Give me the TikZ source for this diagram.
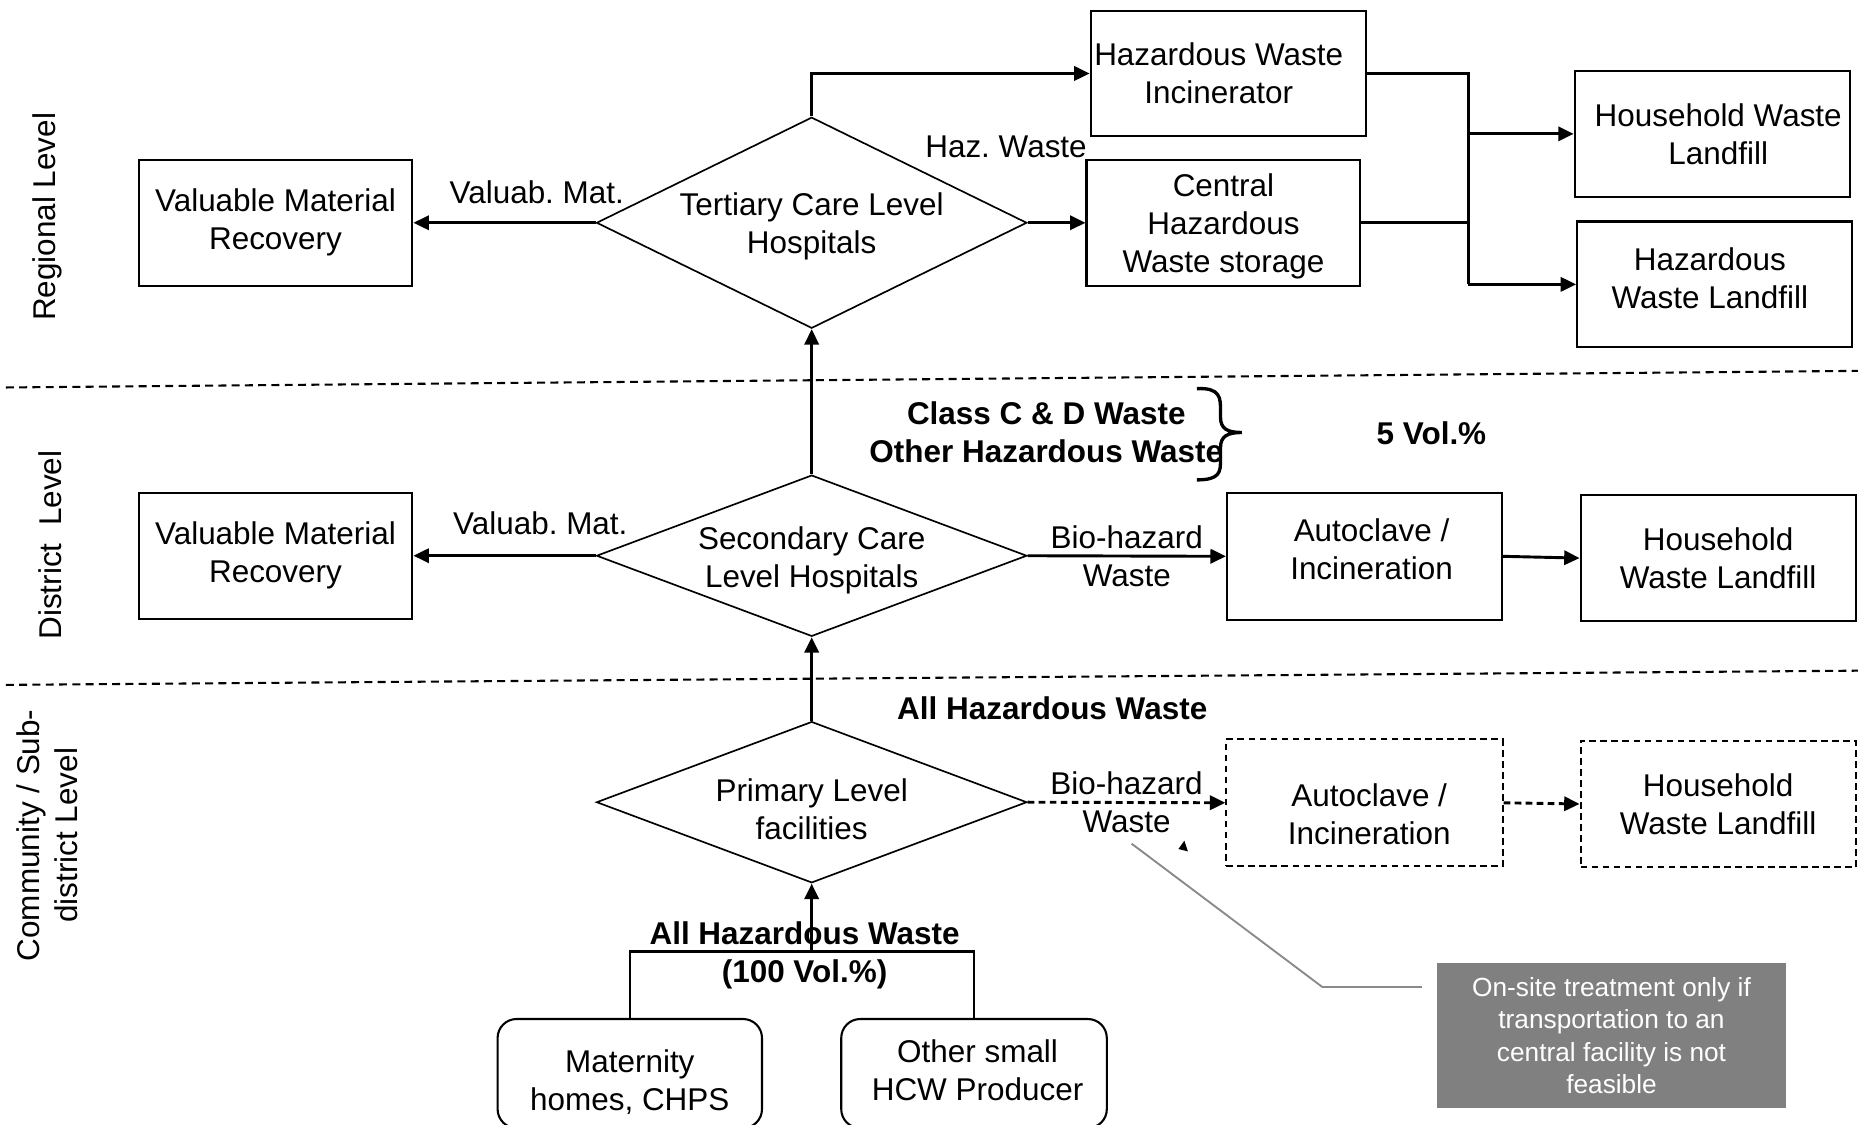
\documentclass[tikz,border=0pt]{standalone}
\usepackage{fontspec}
\setmainfont{Liberation Sans}
\usetikzlibrary{arrows.meta,shapes.geometric}
\newcommand\dgmsize{\fontsize{7.55}{9.1}\selectfont}
\newcommand\notesize{\fontsize{6.3}{7.7}\selectfont}
\definecolor{notegray}{HTML}{808080}
\definecolor{calloutgray}{HTML}{8A8A8A}
\frenchspacing
\tikzset{
  every node/.style={font=\dgmsize},
  box/.style={draw, line width=0.5pt, align=center, inner sep=0pt},
  dbox/.style={box, dash pattern=on 0.056cm off 0.037cm},
  rbox/.style={box, rounded corners=0.16cm},
  diam/.style={draw, shape=diamond, line width=0.4pt, inner sep=0pt, align=center,
    minimum width=3.63cm},
  flow/.style={-{Triangle[length=0.13cm,width=0.12cm]}, line width=0.7pt},
  dflow/.style={flow, dash pattern=on 0.056cm off 0.037cm},
  conn/.style={line width=0.7pt},
  lbl/.style={align=center, inner sep=0pt},
  boldlbl/.style={lbl, font=\dgmsize\bfseries},
  sepline/.style={line width=0.5pt, dash pattern=on 0.067cm off 0.045cm},
  level/.style={rotate=90, align=center, inner sep=0pt},
}
\begin{document}
\begin{tikzpicture}[x=0.01cm, y=-0.01cm]
\useasboundingbox (0,0) rectangle (1568,949);
\begin{scope}
\clip (0,0) rectangle (1568,949);

% level captions
\node[level] (lvlR) at (40,183) {Regional Level};
\node[level] (lvlD) at (42,460) {District\ \ Level};
\node[level] (lvlC) at (40,705) {Community / Sub-\\district Level};

% level separators
\draw[sepline] (5,327) -- (1568,313);
\draw[sepline] (5,578) -- (1568,566);

% ---------- regional level ----------
\node[box, minimum width=2.31cm, minimum height=1.06cm] (vmrT) at (232.5,188)
  {Valuable Material\\Recovery};
\node[diam, minimum height=1.78cm,
  label={[lbl, yshift=-0.03cm]center:{Tertiary Care Level\\Hospitals}}] (tert) at (685,188) {};
\node[box, minimum width=2.32cm, minimum height=1.05cm,
  label={[lbl, xshift=-0.08cm]center:{Hazardous Waste\\Incinerator}}] (inc) at (1036.5,62) {};
\node[box, minimum width=2.31cm, minimum height=1.06cm,
  label={[lbl, yshift=-0.03cm]center:{Central\\Hazardous\\Waste storage}}] (chs) at (1032.5,188) {};
\node[box, minimum width=2.32cm, minimum height=1.06cm,
  label={[lbl, xshift=0.05cm]center:{Household Waste\\Landfill}}] (hwlT) at (1445,113) {};
\node[box, minimum width=2.32cm, minimum height=1.06cm,
  label={[lbl, xshift=-0.04cm, yshift=0.05cm]center:{Hazardous\\Waste Landfill}}] (hazl) at (1447,240) {};
\coordinate (bus) at (1239,188);

\draw[flow] (tert.west) -- (vmrT.east);
\node[lbl] (lvmT) at (453,162) {Valuab. Mat.};
\draw[flow] (tert.north) |- (inc.west);
\draw[flow] (tert.east) -- (chs.west);
\node[lbl] (lhaz) at (849,124) {Haz. Waste};
\draw[conn] (inc.east) -| (bus |- hazl.west);
\draw[conn] (chs.east) -- (bus);
\draw[flow] (bus |- hwlT.west) -- (hwlT.west);
\draw[flow] (bus |- hazl.west) -- (hazl.west);

% ---------- district level ----------
\node[box, minimum width=2.31cm, minimum height=1.06cm] (vmrM) at (232.5,469)
  {Valuable Material\\Recovery};
\node[diam, minimum height=1.36cm,
  label={[lbl, yshift=-0.04cm]center:{Secondary Care\\Level Hospitals}}] (sec) at (685,469) {};
\node[box, minimum width=2.32cm, minimum height=1.07cm,
  label={[lbl, xshift=0.06cm, yshift=0.06cm]center:{Autoclave /\\Incineration}}] (aut) at (1151.5,469.5) {};
\node[box, minimum width=2.32cm, minimum height=1.06cm] (hwlM) at (1450,471)
  {Household\\Waste Landfill};

\draw[flow] (sec.north) -- (tert.south);
\draw[flow] (sec.west) -- (vmrM.east);
\node[lbl] (lvmM) at (456,442) {Valuab. Mat.};
\draw[flow] (sec.east) -- (aut.west) node[midway, lbl] (lbioM) {Bio-hazard\\Waste};
\draw[flow] (aut.east) -- (hwlM.west);

\node[boldlbl] (classCD) at (883,365) {Class C \& D Waste\\Other Hazardous Waste};
\draw[line width=0.8pt] (1010,328) .. controls (1030,327) and (1030,336) .. (1030,346)
  -- (1030,352) .. controls (1030,362) and (1036,365) .. (1048,365)
  .. controls (1036,365) and (1030,368) .. (1030,378)
  -- (1030,388) .. controls (1030,398) and (1030,405) .. (1010,405);
\node[boldlbl] (vol5) at (1208,366) {5 Vol.\%};

% ---------- community / sub-district level ----------
\node[boldlbl] (allHW) at (888,598) {All Hazardous Waste};
\node[diam, minimum height=1.36cm,
  label={[lbl, yshift=-0.06cm]center:{Primary Level\\facilities}}] (prim) at (685,677) {};
\node[dbox, minimum width=2.33cm, minimum height=1.07cm,
  label={[lbl, xshift=0.04cm, yshift=-0.10cm]center:{Autoclave /\\Incineration}}] (daut) at (1151.5,677.5) {};
\node[dbox, minimum width=2.32cm, minimum height=1.07cm] (dhwl) at (1450,678.5)
  {Household\\Waste Landfill};

\draw[flow] (prim.north) -- (sec.south);
\draw[dflow] (prim.east) -- (daut.west) node[midway, lbl] (lbioC) {Bio-hazard\\Waste};
\draw[dflow] (daut.east) -- (dhwl.west);
\fill (994.5,716.5) -- (999.5,709.5) -- (1002.5,718.5) -- cycle;

% on-site treatment note
\node[fill=notegray, text=white, font=\notesize, align=center, inner sep=0pt,
  minimum width=2.94cm, minimum height=1.22cm] (note) at (1360,874)
  {On-site treatment only if\\transportation to an\\central facility is not\\feasible};
\coordinate (noteIn) at (1200,833);
\coordinate (elbow) at (1116,833);
\coordinate (noteTip) at (955,712);
\draw[calloutgray, line width=0.45pt] (noteIn) -- (elbow) -- (noteTip);

% small producers
\node[rbox, minimum width=2.23cm, minimum height=0.92cm,
  label={[lbl, yshift=-0.07cm]center:{Maternity\\homes, CHPS}}] (mat) at (531.5,906) {};
\node[rbox, minimum width=2.24cm, minimum height=0.92cm,
  label={[lbl, xshift=0.03cm, yshift=0.03cm]center:{Other small\\HCW Producer}}] (oth) at (822,906) {};
\coordinate (merge) at (685,803);
\draw[line width=0.6pt] (mat.north) -- (mat.north |- merge) -- (oth.north |- merge) -- (oth.north);
\draw[flow] (merge) -- (prim.south);
\node[boldlbl] (all100) at (679,806) {All Hazardous Waste\\(100 Vol.\%)};
\end{scope}
\end{tikzpicture}
\end{document}
